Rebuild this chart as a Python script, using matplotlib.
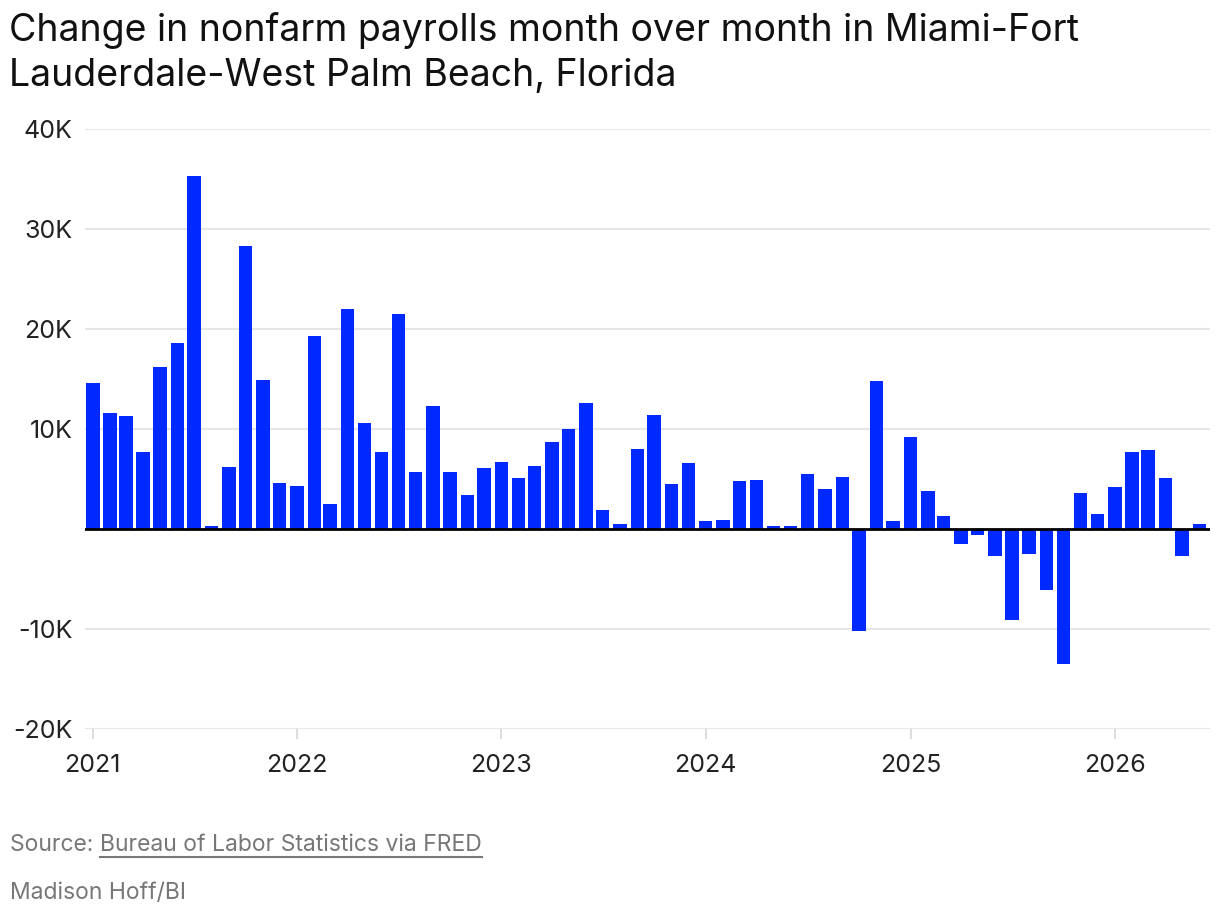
import matplotlib
matplotlib.use("Agg")
import matplotlib.pyplot as plt
import matplotlib.dates as mdates
from matplotlib.lines import Line2D
import pandas as pd
import datetime as dt

plt.rcParams['font.family'] = ['Inter', 'DejaVu Sans']

# Data (thousands of jobs, month over month change)
months = pd.date_range("2021-01-01", "2026-06-01", freq="MS")
values_k = [
    14.6, 11.6, 11.3, 7.7, 16.2, 18.6, 35.3, 0.3, 6.2, 28.3, 14.9, 4.6,   # 2021
    4.3, 19.3, 2.5, 22.0, 10.6, 7.7, 21.5, 5.7, 12.3, 5.7, 3.4, 6.1,      # 2022
    6.7, 5.1, 6.3, 8.7, 10.0, 12.6, 1.9, 0.5, 8.0, 11.4, 4.5, 6.6,        # 2023
    0.8, 0.9, 4.8, 4.9, 0.3, 0.3, 5.5, 4.0, 5.2, -10.2, 14.8, 0.8,        # 2024
    9.2, 3.8, 1.3, -1.5, -0.6, -2.7, -9.1, -2.5, -6.1, -13.5, 3.6, 1.5,   # 2025
    4.2, 7.7, 7.9, 5.1, -2.7, 0.5,                                       # 2026
]
y_ticks = [-20, -10, 0, 10, 20, 30, 40]
y_tick_labels = ["-20K", "-10K", "", "10K", "20K", "30K", "40K"]
x_tick_years = [2021, 2022, 2023, 2024, 2025, 2026]

title_lines = ["Change in nonfarm payrolls month over month in Miami-Fort",
               "Lauderdale-West Palm Beach, Florida"]
source_prefix = "Source: "
source_link = "Bureau of Labor Statistics via FRED"
credit = "Madison Hoff/BI"

W, H = 1220, 916
fig = plt.figure(figsize=(W / 100, H / 100), dpi=100)
ax = fig.add_axes([85 / W, 1 - 729 / H, (1210 - 85) / W, (729 - 129) / H])

ax.bar(months, values_k, width=24, color="#0029FF", zorder=3)

ax.set_ylim(-20, 40)
ax.set_xlim(mdates.date2num(dt.datetime(2020, 12, 18)), mdates.date2num(dt.datetime(2026, 6, 20)))

ax.set_yticks(y_ticks)
ax.set_yticklabels(y_tick_labels)
ax.set_xticks([mdates.date2num(dt.datetime(y, 1, 1)) for y in x_tick_years])
ax.set_xticklabels([str(y) for y in x_tick_years])

ax.grid(axis="y", color="#e6e6e6", linewidth=1.5, zorder=0)
ax.axhline(0, color="black", linewidth=2, zorder=4)
for s in ax.spines.values():
    s.set_visible(False)

ax.tick_params(axis="y", length=0, pad=9, labelsize=18, labelcolor="#222222")
ax.tick_params(axis="x", length=7, width=1.5, color="#dddddd", pad=11, labelsize=18, labelcolor="#222222")

for i, line in enumerate(title_lines):
    fig.text(9 / W, 1 - (41 + 45 * i) / H, line, ha="left", va="baseline",
             fontsize=27, color="#111111")

src_y = 1 - 851 / H
t1 = fig.text(10 / W, src_y, source_prefix, ha="left", va="baseline", fontsize=16.5, color="#777777")
fig.canvas.draw()
r = fig.canvas.get_renderer()
bb1 = t1.get_window_extent(r)
t2 = fig.text(bb1.x1 / W, src_y, source_link, ha="left", va="baseline", fontsize=16.5, color="#777777")
bb2 = t2.get_window_extent(r)
uy = (H - 857) / H
fig.add_artist(Line2D([bb2.x0 / W, bb2.x1 / W], [uy, uy], color="#777777", linewidth=1.5, transform=fig.transFigure))

fig.text(10 / W, 1 - 899 / H, credit, ha="left", va="baseline", fontsize=16.5, color="#777777")

fig.savefig("out.png", dpi=100)
